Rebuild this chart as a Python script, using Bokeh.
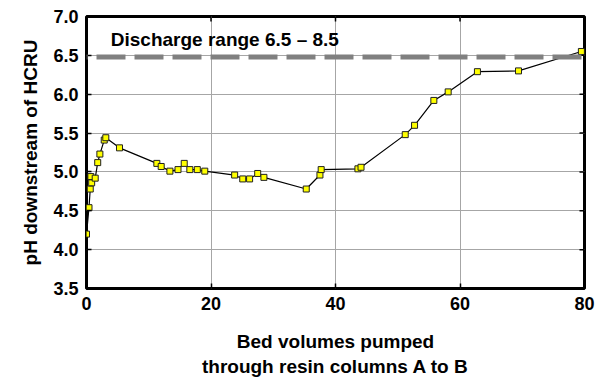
import math
from bokeh.plotting import figure
from bokeh.models import Range1d, FixedTicker, Span, Label, NumeralTickFormatter, ColumnDataSource
from bokeh.embed import file_html
from bokeh.resources import INLINE

# Data
bed_volumes = [0, 0.4, 0.6, 0.83, 0.7, 1.4, 1.8, 2.15, 2.85, 3.1, 5.3, 11.3, 12.0, 13.4, 14.7,
               15.7, 16.6, 17.8, 19.0, 23.8, 25.1, 26.2, 27.5, 28.5, 35.3, 37.5, 37.7, 43.6,
               44.1, 51.2, 52.7, 55.8, 58.1, 62.8, 69.4, 79.5]
ph_values = [4.20, 4.54, 4.78, 4.86, 4.94, 4.92, 5.12, 5.23, 5.41, 5.44, 5.31, 5.11, 5.07, 5.01,
             5.03, 5.11, 5.03, 5.03, 5.01, 4.96, 4.91, 4.91, 4.98, 4.93, 4.78, 4.96, 5.03, 5.04,
             5.06, 5.48, 5.60, 5.92, 6.03, 6.29, 6.30, 6.55]
x_ticks = [0, 20, 40, 60, 80]
y_ticks = [3.5, 4.0, 4.5, 5.0, 5.5, 6.0, 6.5, 7.0]
discharge_level = 6.48
discharge_text = "Discharge range 6.5 \u2013 8.5"
x_title = "Bed volumes pumped\nthrough resin columns A to B"
y_title = "pH downstream of HCRU"

FONT = "Liberation Sans"
x_lo, x_hi = x_ticks[0], x_ticks[-1]
y_lo, y_hi = y_ticks[0], y_ticks[-1]

p = figure(width=595, height=379, output_backend="svg", toolbar_location=None,
           x_range=Range1d(x_lo, x_hi), y_range=Range1d(y_lo, y_hi),
           min_border_left=86, min_border_right=11, min_border_top=16, min_border_bottom=90)

p.background_fill_color = "white"
p.border_fill_color = "white"
p.outline_line_color = "black"
p.outline_line_width = 3

for ax in (p.xaxis[0], p.yaxis[0]):
    ax.axis_line_color = None
    ax.major_tick_in = 5
    ax.major_tick_out = 0
    ax.major_tick_line_color = "black"
    ax.major_tick_line_width = 1.5
    ax.minor_tick_line_color = None
    ax.major_label_text_font = FONT
    ax.major_label_text_font_style = "bold"
    ax.major_label_text_font_size = "18px"
    ax.major_label_text_color = "black"
    ax.axis_label_text_font = FONT
    ax.axis_label_text_font_style = "bold"
    ax.axis_label_text_font_size = "19px"
    ax.axis_label_text_color = "black"

p.xaxis[0].ticker = FixedTicker(ticks=x_ticks)
p.yaxis[0].ticker = FixedTicker(ticks=y_ticks)
p.yaxis[0].formatter = NumeralTickFormatter(format="0.0")
p.xaxis[0].major_label_standoff = 8
p.yaxis[0].major_label_standoff = 8
p.xaxis[0].axis_label = x_title
p.yaxis[0].axis_label = y_title
p.xaxis[0].axis_label_standoff = 18
p.yaxis[0].axis_label_standoff = 9

p.xgrid.ticker = FixedTicker(ticks=x_ticks)
p.ygrid.ticker = FixedTicker(ticks=y_ticks)
p.grid.grid_line_color = "#a6a6a6"
p.grid.grid_line_width = 1

# mirrored inner ticks on the top and right edges
p.ray(x=x_ticks, y=[y_hi] * len(x_ticks), length=5, length_units="screen",
      angle=-math.pi / 2, line_color="black", line_width=1.5)
p.ray(x=[x_hi] * len(y_ticks), y=y_ticks, length=5, length_units="screen",
      angle=math.pi, line_color="black", line_width=1.5)

span = Span(location=discharge_level, dimension="width", line_color="#808080",
            line_width=5, line_dash="29 9", line_dash_offset=28)
p.add_layout(span)

label = Label(x=3.9, y=6.705, text=discharge_text, text_font=FONT, text_font_style="bold",
              text_font_size="19px", text_baseline="middle", text_align="left", text_color="black")
p.add_layout(label)

src = ColumnDataSource(dict(x=bed_volumes, y=ph_values))
p.line("x", "y", source=src, line_color="black", line_width=1.2)
p.scatter("x", "y", source=src, marker="square", size=6, fill_color="#ffff00",
          line_color="#202020", line_width=1)

open("out.html", "w").write(file_html(p, INLINE))
